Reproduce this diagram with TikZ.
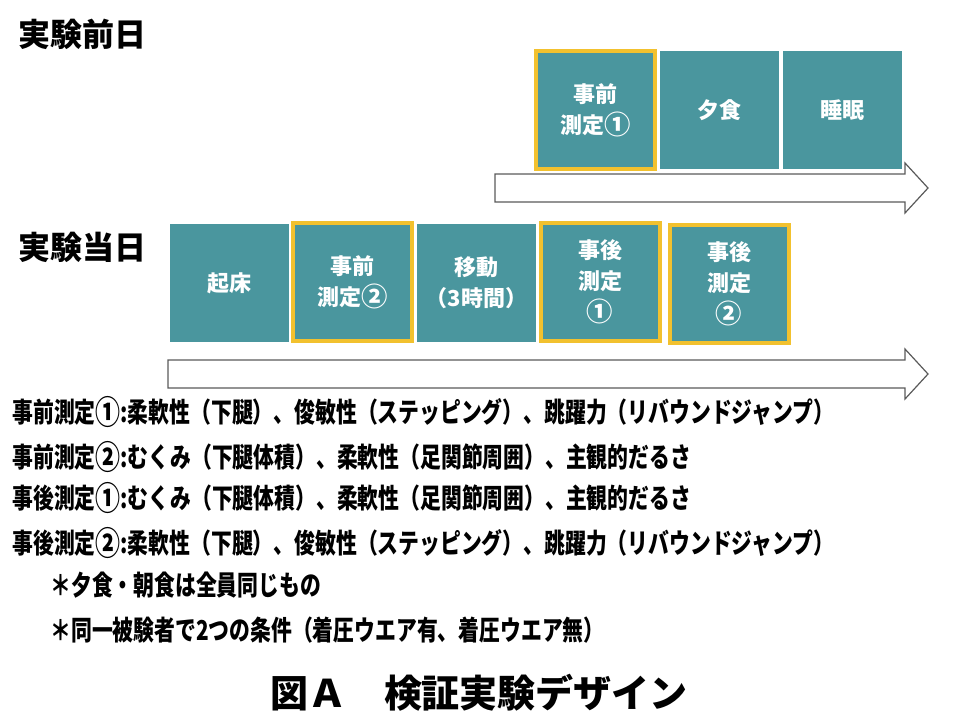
\documentclass[tikz,border=0pt]{standalone}
\usepackage{fontspec}
\usepackage{xcolor}
\usepackage{tikz}
\usetikzlibrary{calc,positioning}
\newfontfamily\jpfont{Noto Sans CJK JP}
\newfontfamily\jpnarrow[FakeStretch=0.76]{Noto Sans CJK JP}
\definecolor{tealc}{HTML}{4A969E}
\definecolor{goldc}{HTML}{F2C12E}
\definecolor{edgec}{HTML}{5A5A5A}
\newcommand\cnum[1]{\raisebox{-0.06em}{\scalebox{1.2}{#1}}}
\tikzset{
  stage/.style={fill=tealc,text=white,align=center,inner sep=0pt,minimum width=59.5pt,minimum height=59pt,
    font=\jpfont\bfseries\fontsize{11}{15.5}\selectfont},
  meas/.style={stage,draw=goldc,line width=2pt},
  tline/.style={draw=edgec,line width=0.6pt,fill=white},
  daylbl/.style={anchor=west,inner sep=0pt,font=\jpfont\bfseries\fontsize{16}{18}\selectfont},
  note/.style={anchor=west,inner sep=0pt,font=\jpnarrow\bfseries\fontsize{13.7}{15}\selectfont}
}
\begin{document}
\begin{tikzpicture}[x=0.5pt,y=-0.5pt]
\useasboundingbox (0,0) rectangle (960,720);
% time lines
\foreach \xs/\yc in {495/188,168/374}
  \draw[tline] (\xs,\yc-14) -- (905,\yc-14) -- (905,\yc-25) -- (928,\yc) -- (905,\yc+25) -- (905,\yc+14) -- (\xs,\yc+14) -- cycle;
% day before
\node[daylbl] (day1) at (18,34) {実験前日};
\node[meas]  (pre1)  at (595.5,110) {事前\\測定\cnum{①}};
\node[stage] (meal)  at (719.5,110) {夕食};
\node[stage] (sleep) at (842.5,110) {睡眠};
% test day
\node[daylbl] (day2) at (18,247) {実験当日};
\node[stage] (wake)  at (229.5,283) {起床};
\node[meas]  (pre2)  at (352.5,282) {事前\\測定\cnum{②}};
\node[stage] (move)  at (476.5,283) {移動\\（3時間）};
\node[meas]  (post1) at (600,282) {事後\\測定\\\cnum{①}};
\node[meas]  (post2) at (729,284) {事後\\測定\\\cnum{②}};
% notes
\node[note] (n1) at (12,412) {事前測定\cnum{①}:柔軟性（下腿）、俊敏性（ステッピング）、跳躍力（リバウンドジャンプ）};
\node[note] (n2) at (12,457) {事前測定\cnum{②}:むくみ（下腿体積）、柔軟性（足関節周囲）、主観的だるさ};
\node[note] (n3) at (12,498) {事後測定\cnum{①}:むくみ（下腿体積）、柔軟性（足関節周囲）、主観的だるさ};
\node[note] (n4) at (12,543) {事後測定\cnum{②}:柔軟性（下腿）、俊敏性（ステッピング）、跳躍力（リバウンドジャンプ）};
\node[note] (n5) at (50,585) {＊夕食・朝食は全員同じもの};
\node[note] (n6) at (50,630) {＊同一被験者で2つの条件（着圧ウエア有、着圧ウエア無）};
\node[inner sep=0pt,font=\jpfont\bfseries\fontsize{19}{22}\selectfont] (cap) at (479,693) {図Ａ　検証実験デザイン};
\end{tikzpicture}
\end{document}
